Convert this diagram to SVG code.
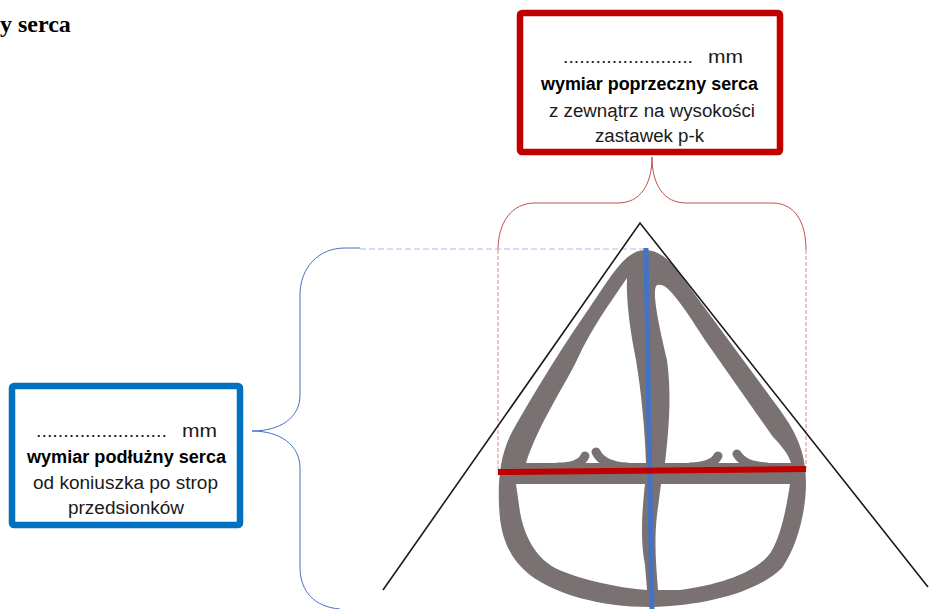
<svg xmlns="http://www.w3.org/2000/svg" width="929" height="609" viewBox="0 0 929 609">
<style>
.lbl{font-family:"Liberation Sans",Arial,sans-serif;font-size:18px;fill:#1a1a1a;text-anchor:middle}
.b{font-weight:bold;fill:#000}
.brace{fill:none;stroke-width:1}
.wall{fill:#7a7272}
.cav{fill:#fff}
.leaf{fill:none;stroke:#7a7272;stroke-width:9;stroke-linecap:round}
</style>
<rect width="929" height="609" fill="#fff"/>
<text id="title" x="0" y="32" font-family="Liberation Serif,'Times New Roman',serif" font-size="24" font-weight="bold" fill="#000">y serca</text>

<g id="connectors">
  <path class="brace" stroke="#C0504D" d="M 498 250 C 498 222, 512 203, 535 203 L 618 203 C 640 203, 652 185, 652 157 C 652 185, 664 203, 686 203 L 772 203 C 795 203, 806 222, 806 250"/>
  <path fill="none" stroke="#D9534F" stroke-opacity="0.7" stroke-width="1" stroke-dasharray="4 2" d="M 498 250 L 498 470 M 806 250 L 806 468"/>
  <path class="brace" stroke="#4472C4" d="M 360 248 L 345 248 C 318 248, 300 268, 300 295 L 300 395 C 300 418, 280 431, 252 431 C 280 431, 300 445, 300 468 L 300 567 C 300 592, 315 607, 340 609"/>
  <path fill="none" stroke="#A6BDE8" stroke-width="1.2" stroke-dasharray="6 3" d="M 360 249 L 646 249"/>
</g>

<g id="heart">
  <path class="wall" d="M 645 250 C 660 250, 672 262, 682 277 L 780 410 C 798 435, 806 455, 806 483 C 806 510, 798 545, 782 568 C 760 590, 710 606, 650 607 C 600 607, 555 594, 530 575 C 505 555, 500 530, 499 505 C 498 480, 500 455, 512 432 C 530 400, 560 350, 590 307 C 610 278, 625 250, 645 250 Z"/>
  <path class="cav" d="M 627 278 C 612 300, 590 330, 577 360 C 565 385, 538 425, 526 463 L 646 463 C 645 430, 641 390, 636 360 C 630 330, 626 300, 627 278 Z"/>
  <path class="cav" d="M 656 286 C 652 295, 660 330, 667 360 C 671 390, 670 420, 665 463 L 791 463 C 789 455, 781 445, 773 437 L 707 343 C 695 325, 680 300, 667 288 C 662 284, 658 284, 656 286 Z"/>
  <path class="cav" d="M 516 484 L 645 484 C 642 510, 640 540, 645 565 L 647 590 C 620 588, 580 580, 555 568 C 532 555, 522 530, 519 505 Z"/>
  <path class="cav" d="M 661 484 L 790 484 C 786 510, 781 535, 771 552 C 758 572, 720 585, 680 590 L 658 590 C 656 565, 654 540, 657 515 Z"/>
  <path class="leaf" d="M 558 467 Q 580 467 585 456"/>
  <path class="leaf" d="M 596 452 Q 603 466 627 467"/>
  <path class="leaf" d="M 690 467 Q 713 466 718 456"/>
  <path class="leaf" d="M 737 454 Q 744 466 767 467"/>
</g>

<g id="triangle">
  <path fill="none" stroke="#1a1a1a" stroke-width="1.6" d="M 383 590 L 640 223 L 928 587"/>
</g>

<g id="measures">
  <line id="longitudinal-line" x1="646" y1="248" x2="652" y2="609" stroke="#4472C4" stroke-width="5"/>
  <line id="transverse-line" x1="498" y1="472" x2="806" y2="469" stroke="#C00000" stroke-width="6"/>
</g>

<g id="box-transverse">
  <rect x="520" y="13" width="260" height="139" rx="2" fill="#fff" stroke="#C00000" stroke-width="6.5"/>
  <text class="lbl" x="628" y="63" textLength="130" lengthAdjust="spacingAndGlyphs">........................</text>
  <text class="lbl" x="725.5" y="63" font-size="20" textLength="35" lengthAdjust="spacingAndGlyphs">mm</text>
  <text class="lbl b" x="649.5" y="90" textLength="217" lengthAdjust="spacingAndGlyphs">wymiar poprzeczny serca</text>
  <text class="lbl" x="652" y="116.5" textLength="206" lengthAdjust="spacingAndGlyphs">z zewnątrz na wysokości</text>
  <text class="lbl" x="649.5" y="142" textLength="109" lengthAdjust="spacingAndGlyphs">zastawek p-k</text>
</g>

<g id="box-longitudinal">
  <rect x="12" y="386" width="228" height="139" rx="2" fill="#fff" stroke="#0070C0" stroke-width="6.5"/>
  <text class="lbl" x="101.5" y="437" textLength="131" lengthAdjust="spacingAndGlyphs">........................</text>
  <text class="lbl" x="199.5" y="437" font-size="20" textLength="35" lengthAdjust="spacingAndGlyphs">mm</text>
  <text class="lbl b" x="126.5" y="463" textLength="199" lengthAdjust="spacingAndGlyphs">wymiar podłużny serca</text>
  <text class="lbl" x="125.5" y="489" textLength="185" lengthAdjust="spacingAndGlyphs">od koniuszka po strop</text>
  <text class="lbl" x="126" y="514" textLength="116" lengthAdjust="spacingAndGlyphs">przedsionków</text>
</g>
</svg>
